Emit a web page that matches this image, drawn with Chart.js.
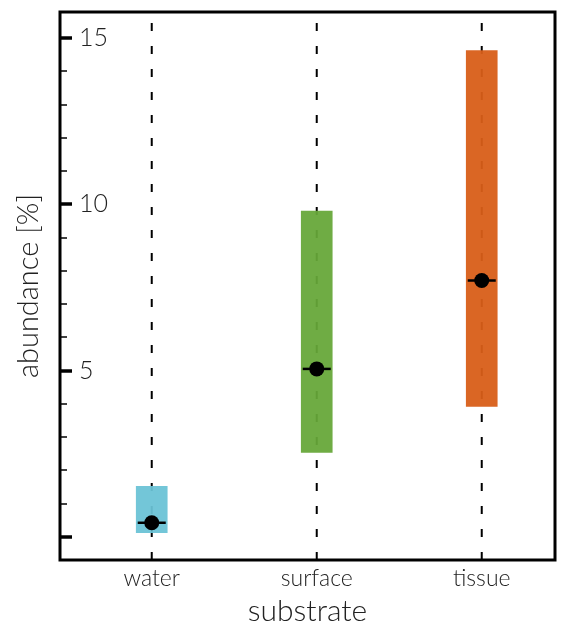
<!DOCTYPE html>
<html>
<head>
<meta charset="utf-8">
<script src="https://cdn.jsdelivr.net/npm/chart.js@4.4.1/dist/chart.umd.min.js"></script>
<style>
  html, body { margin: 0; padding: 0; background: #fff; }
  #wrap { width: 574px; height: 626px; }
</style>
</head>
<body>
<div id="wrap"><canvas id="chart"></canvas></div>
<script>
// substrate categories and abundance ranges [%]
const categories = ['water', 'surface', 'tissue'];
const lowValues = [0.12, 2.54, 3.92];
const highValues = [1.52, 9.8, 14.63];
const medianValues = [0.42, 5.05, 7.71];
const boxColors = ['rgba(106,194,214,0.94)', 'rgba(102,167,56,0.94)', 'rgba(216,94,24,0.95)'];
const yLabelTicks = [5, 10, 15];
const yMin = -0.7, yMax = 15.79;

const fontFamily = "Lato, 'Open Sans', sans-serif";

// dashed guide line for each category, spanning the whole plot height
const guideSets = categories.map((c, i) => ({
  type: 'line',
  data: [{x: i, y: yMin}, {x: i, y: yMax}],
  borderColor: '#000',
  borderWidth: 2,
  borderDash: [8, 15],
  pointRadius: 0,
  order: 5
}));

const framePlugin = {
  id: 'frame',
  afterDraw(chart) {
    const {ctx, chartArea: a, scales: {y}} = chart;
    ctx.save();
    ctx.strokeStyle = '#000';
    ctx.lineWidth = 3;
    ctx.strokeRect(a.left, a.top, a.right - a.left, a.bottom - a.top);
    // inward ticks on the y axis
    y.ticks.forEach(t => {
      if (!Number.isInteger(t.value)) return;
      const py = Math.round(y.getPixelForValue(t.value));
      const major = t.value % 5 === 0;
      ctx.lineWidth = major ? 3.5 : 1.5;
      ctx.beginPath();
      ctx.moveTo(a.left, py);
      ctx.lineTo(a.left + (major ? 12 : 7), py);
      ctx.stroke();
    });
    ctx.restore();
  }
};

const noPad = s => { s.paddingTop = 0; s.paddingBottom = 0; s.paddingLeft = 0; s.paddingRight = 0; };

new Chart(document.getElementById('chart'), {
  data: {
    datasets: [
      ...guideSets,
      {
        type: 'bar',
        data: categories.map((c, i) => ({x: i, y: [lowValues[i], highValues[i]]})),
        backgroundColor: boxColors,
        borderWidth: 0,
        barThickness: 31,
        grouped: false,
        order: 3
      },
      {
        type: 'scatter',
        data: categories.map((c, i) => ({x: i, y: medianValues[i]})),
        pointStyle: 'line',
        pointRadius: 14,
        borderColor: '#000',
        borderWidth: 2.5,
        order: 2
      },
      {
        type: 'scatter',
        data: categories.map((c, i) => ({x: i, y: medianValues[i]})),
        pointRadius: 7.5,
        backgroundColor: '#000',
        borderWidth: 0,
        order: 1
      }
    ]
  },
  options: {
    responsive: true,
    maintainAspectRatio: false,
    animation: false,
    layout: {autoPadding: false, padding: {top: 12, right: 19, left: 0, bottom: 0}},
    plugins: {legend: {display: false}, tooltip: {enabled: false}},
    scales: {
      x: {
        type: 'linear',
        offset: false,
        min: -0.556,
        max: 2.444,
        afterBuildTicks: s => { s.ticks = categories.map((c, i) => ({value: i})); },
        afterFit: s => { s.height = 66; noPad(s); },
        grid: {display: false, drawTicks: false, offset: false},
        border: {display: false},
        ticks: {
          callback: v => categories[v],
          color: '#222',
          padding: 5,
          font: {family: fontFamily, size: 23, weight: 300}
        },
        title: {
          display: true,
          text: 'substrate',
          color: '#222',
          padding: {top: 0, bottom: 0},
          font: {family: fontFamily, size: 30, weight: 300, lineHeight: 1}
        }
      },
      y: {
        min: yMin,
        max: yMax,
        afterFit: s => { s.width = 60; noPad(s); },
        grid: {display: false, drawTicks: false},
        border: {display: false},
        ticks: {
          stepSize: 1,
          includeBounds: false,
          mirror: true,
          padding: 19,
          color: '#222',
          callback: v => yLabelTicks.includes(v) ? String(v) : '',
          font: {family: fontFamily, size: 25, weight: 300, lineHeight: 0.9}
        },
        title: {
          display: true,
          text: 'abundance [%]',
          color: '#222',
          padding: {top: 11},
          font: {family: fontFamily, size: 29, weight: 300}
        }
      }
    }
  },
  plugins: [framePlugin]
});
</script>
</body>
</html>
